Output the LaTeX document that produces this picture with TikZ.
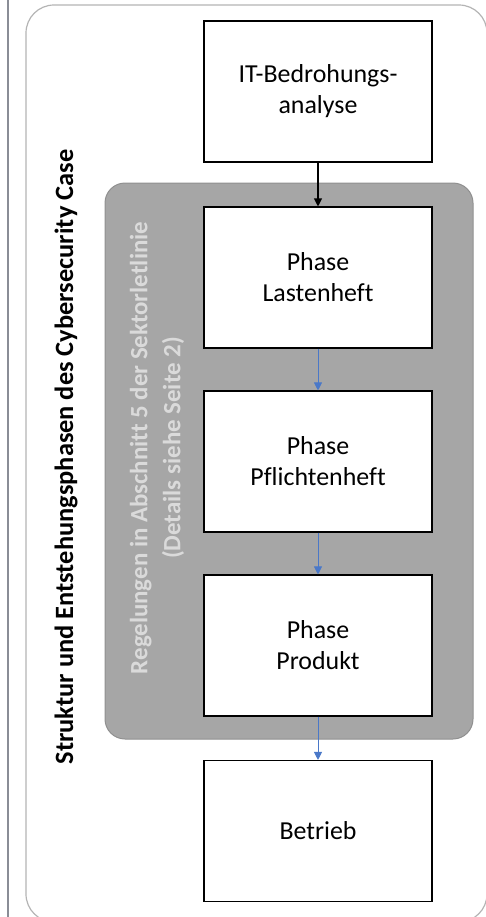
\documentclass[tikz,border=0pt]{standalone}
\usepackage{fontspec}
\setmainfont{Carlito}[Ligatures={NoCommon}]
\usetikzlibrary{arrows.meta}
\definecolor{sideline}{HTML}{8A8D96}
\definecolor{framegray}{HTML}{B4B4B4}
\definecolor{bandfill}{HTML}{A6A6A6}
\definecolor{banddraw}{HTML}{909090}
\definecolor{bandtext}{HTML}{DADADA}
\definecolor{flowblue}{HTML}{4A78C8}
\begin{document}
\begin{tikzpicture}[x=1bp,y=-1bp,
  phasebox/.style={draw=black, line width=1.1bp, fill=white,
    minimum width=228bp, minimum height=141bp, inner sep=0pt,
    align=center, font=\fontsize{26}{31}\selectfont},
  darkflow/.style={-{Triangle[length=8bp,width=8bp]}, line width=1.1bp, black},
  blueflow/.style={-{Triangle[length=8bp,width=8bp]}, line width=0.9bp, flowblue}
]
\useasboundingbox (0,0) rectangle (486,917);

% left rule and outer frame
\draw[sideline, line width=2bp] (8,0) -- (8,917);
\draw[framegray, line width=1.2bp, rounded corners=28bp] (26,5) rectangle (487,922);

% shaded band for the regulated phases
\draw[banddraw, fill=bandfill, line width=1bp, rounded corners=20bp] (105,183) rectangle (473,739);

% vertical titles
\node[rotate=90, font=\bfseries\fontsize{26.5}{30}\selectfont] (title) at (66,457)
  {Struktur und Entstehungsphasen des Cybersecurity Case};
\node[rotate=90, align=center, text=bandtext, font=\bfseries\fontsize{25}{33}\selectfont] (rules) at (157,448)
  {Regelungen in Abschnitt 5 der Sektorletlinie\\(Details siehe Seite 2)};

% phase boxes
\node[phasebox] (it) at (318,91.5) {IT-Bedrohungs-\\analyse};
\node[phasebox] (last) at (318,277.5) {Phase\\Lastenheft};
\node[phasebox] (pflicht) at (318,461.5) {Phase\\Pflichtenheft};
\node[phasebox] (prod) at (318,645.5) {Phase\\Produkt};
\node[phasebox] (betrieb) at (318,831) {Betrieb};

% flow
\draw[darkflow] (it) -- (last);
\draw[blueflow] (last) -- (pflicht);
\draw[blueflow] (pflicht) -- (prod);
\draw[blueflow] (prod) -- (betrieb);
\end{tikzpicture}
\end{document}
